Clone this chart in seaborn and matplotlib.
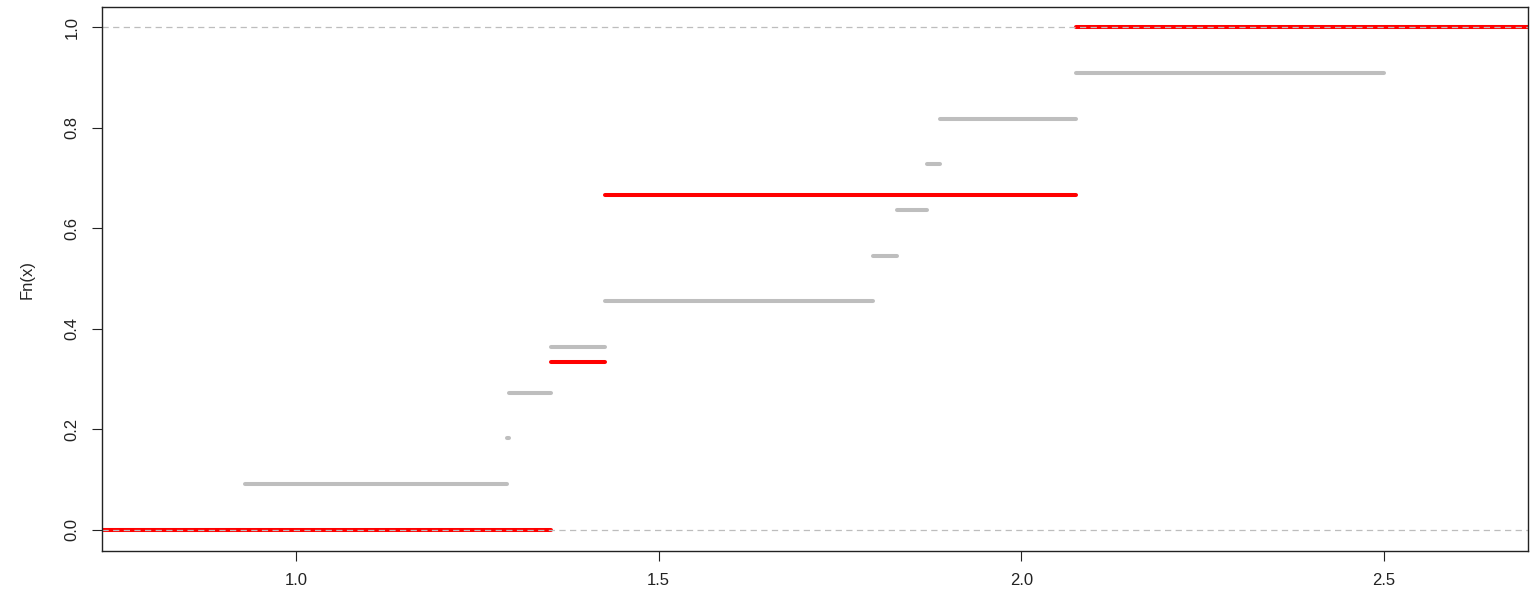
import numpy as np
import pandas as pd
import seaborn as sns
import matplotlib.pyplot as plt

# sample values
grey_x = [0.930, 1.291, 1.293, 1.352, 1.426, 1.795, 1.828, 1.870, 1.888, 2.075, 2.500]
red_x = [1.352, 1.426, 2.075]

x_lim = (0.7325, 2.6985)
y_lim = (-0.042, 1.04)


def ecdf_segments(xs, lo, hi):
    xs = sorted(xs)
    n = len(xs)
    edges = [lo] + xs + [hi]
    rows = []
    for i in range(n + 1):
        y = i / n
        rows.append({"x": edges[i], "y": y, "seg": i})
        rows.append({"x": edges[i + 1], "y": y, "seg": i})
    return pd.DataFrame(rows)


sns.set_style("ticks")
plt.rcParams["font.family"] = ["Liberation Sans", "DejaVu Sans"]

fig = plt.figure(figsize=(15.38, 5.94), dpi=100)
ax = fig.add_axes([0.0663, 0.0724, 0.9272, 0.9158])

grey_df = ecdf_segments(grey_x, x_lim[0], x_lim[1])
red_df = ecdf_segments(red_x, x_lim[0], x_lim[1])

sns.lineplot(data=grey_df, x="x", y="y", units="seg", estimator=None, sort=False,
             color="#BEBEBE", linewidth=2.9, solid_capstyle="round", ax=ax)
sns.lineplot(data=red_df, x="x", y="y", units="seg", estimator=None, sort=False,
             color="#FF0000", linewidth=2.9, solid_capstyle="round", ax=ax)

for h in [0, 1]:
    ax.axhline(h, color="#BDBDBD", linestyle=(0, (5, 3.5)), linewidth=0.9)

ax.set_xlim(*x_lim)
ax.set_ylim(*y_lim)
ax.set_xticks([1.0, 1.5, 2.0, 2.5])
ax.set_yticks([0.0, 0.2, 0.4, 0.6, 0.8, 1.0])
ax.set_xticklabels(["1.0", "1.5", "2.0", "2.5"])
ax.set_yticklabels(["0.0", "0.2", "0.4", "0.6", "0.8", "1.0"], rotation=90, va="center")
ax.tick_params(direction="out", length=7, width=0.8, labelsize=12, colors="#222222", pad=9)
ax.set_xlabel("")
ax.set_ylabel("Fn(x)", fontsize=12, labelpad=22)
for s in ax.spines.values():
    s.set_visible(True)
    s.set_linewidth(1.0)
    s.set_color("#222222")

fig.savefig("out.png", dpi=100)
